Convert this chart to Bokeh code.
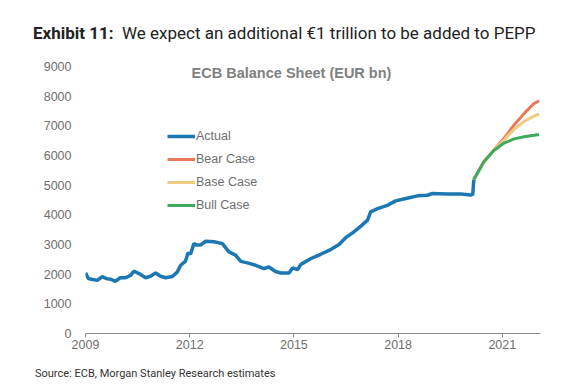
from bokeh.plotting import figure
from bokeh.models import (Label, Legend, LegendItem, FixedTicker, Range1d, Div)
from bokeh.layouts import column
from bokeh.embed import file_html
from bokeh.resources import INLINE

# ---- data (decimal years, EUR bn) ----
actual_x = [2009.00, 2009.08, 2009.20, 2009.34, 2009.48, 2009.60, 2009.72, 2009.86,
            2010.00, 2010.15, 2010.30, 2010.39, 2010.54, 2010.73, 2010.87, 2011.02,
            2011.16, 2011.31, 2011.50, 2011.64, 2011.74, 2011.88, 2011.95, 2012.03,
            2012.12, 2012.20, 2012.31, 2012.46, 2012.70, 2012.94, 2013.13, 2013.32,
            2013.47, 2013.66, 2013.90, 2014.14, 2014.28, 2014.47, 2014.62, 2014.86,
            2014.96, 2015.10, 2015.20, 2015.48, 2015.77, 2016.06, 2016.30, 2016.49,
            2016.69, 2016.93, 2017.12, 2017.21, 2017.41, 2017.69, 2017.93, 2018.22,
            2018.56, 2018.84, 2018.99, 2019.42, 2019.80, 2020.09, 2020.15, 2020.18]
actual_y = [2050, 1850, 1820, 1790, 1920, 1850, 1830, 1760,
            1880, 1880, 1960, 2100, 2020, 1880, 1930, 2040,
            1930, 1880, 1920, 2070, 2300, 2440, 2710, 2690,
            3030, 2980, 2980, 3110, 3090, 3030, 2750, 2640,
            2430, 2380, 2300, 2190, 2240, 2090, 2040, 2040,
            2210, 2150, 2330, 2520, 2670, 2830, 3000, 3230,
            3390, 3620, 3820, 4100, 4210, 4320, 4470, 4550,
            4640, 4660, 4720, 4700, 4700, 4670, 4690, 5190]

fc_x = [2020.18, 2020.47, 2020.76, 2021.05, 2021.34, 2021.63, 2021.92, 2022.06]
bear_y = [5190, 5790, 6190, 6580, 7030, 7420, 7760, 7840]
base_y = [5190, 5790, 6180, 6520, 6880, 7150, 7330, 7400]
bull_y = [5190, 5790, 6170, 6420, 6560, 6630, 6680, 6710]

x_ticks = [2009, 2012, 2015, 2018, 2021]
y_ticks = [0, 1000, 2000, 3000, 4000, 5000, 6000, 7000, 8000, 9000]

c_actual = "#1C77B3"
c_bear = "#E8795A"
c_base = "#EECB80"
c_bull = "#3FA95E"
grey = "#6E6E6E"

title_div = Div(
    text='<span style="font-weight:700">Exhibit 11:</span>&nbsp; '
         'We expect an additional \u20ac1 trillion to be added to PEPP',
    width=554, height=50, margin=0,
    styles={"font-family": "Roboto", "font-size": "17px", "color": "#222222",
            "line-height": "20px", "padding-left": "33px", "padding-top": "23px",
            "white-space": "nowrap"})

p = figure(width=554, height=313, output_backend="svg", toolbar_location=None,
           x_range=Range1d(2009, 2022.1), y_range=Range1d(0, 9000),
           min_border_left=85, min_border_right=14, min_border_top=16,
           min_border_bottom=30, margin=0)
p.outline_line_color = None
p.xgrid.grid_line_color = None
p.ygrid.grid_line_color = None
p.background_fill_color = "white"
p.border_fill_color = "white"

r_act = p.line(actual_x, actual_y, line_color=c_actual, line_width=3.5)
r_bear = p.line(fc_x, bear_y, line_color=c_bear, line_width=3)
r_base = p.line(fc_x, base_y, line_color=c_base, line_width=3)
r_bull = p.line(fc_x, bull_y, line_color=c_bull, line_width=3)

# x axis
xa = p.xaxis[0]
xa.ticker = FixedTicker(ticks=x_ticks)
xa.minor_tick_line_color = None
xa.major_tick_in = 0
xa.major_tick_out = 4
xa.axis_line_color = "#888888"
xa.major_tick_line_color = "#888888"
xa.major_label_text_font = "Liberation Sans"
xa.major_label_text_font_size = "12.5px"
xa.major_label_text_color = grey
xa.major_label_standoff = 2

# y axis
ya = p.yaxis[0]
ya.ticker = FixedTicker(ticks=y_ticks)
ya.axis_line_color = None
ya.major_tick_line_color = None
ya.minor_tick_line_color = None
ya.major_label_text_font = "Liberation Sans"
ya.major_label_text_font_size = "12.5px"
ya.major_label_text_color = grey
ya.major_label_standoff = 8

legend = Legend(items=[
    LegendItem(label="Actual", renderers=[r_act]),
    LegendItem(label="Bear Case", renderers=[r_bear]),
    LegendItem(label="Base Case", renderers=[r_base]),
    LegendItem(label="Bull Case", renderers=[r_bull]),
], location=(82, 118))
legend.border_line_color = None
legend.background_fill_alpha = 0
legend.padding = 0
legend.margin = 0
legend.spacing = 3
legend.glyph_width = 28
legend.glyph_height = 20
legend.label_height = 20
legend.label_standoff = 1
legend.label_text_font = "Liberation Sans"
legend.label_text_font_size = "12.5px"
legend.label_text_color = grey
p.add_layout(legend, "center")

# inner chart title
p.add_layout(Label(x=206, y=261, x_units="screen", y_units="screen",
                   text="ECB Balance Sheet (EUR bn)", text_align="center",
                   text_baseline="middle", text_font="Liberation Sans",
                   text_font_style="bold", text_font_size="14.5px",
                   text_color="#808080"))

source_div = Div(
    text="Source: ECB, Morgan Stanley Research estimates",
    width=554, height=25, margin=0,
    styles={"font-family": "Roboto", "font-size": "11px", "color": "#333333",
            "line-height": "14px", "padding-left": "35px", "padding-top": "4px",
            "white-space": "nowrap"})

layout = column(title_div, p, source_div, spacing=0, margin=0)

open("out.html", "w").write(file_html(layout, INLINE))
